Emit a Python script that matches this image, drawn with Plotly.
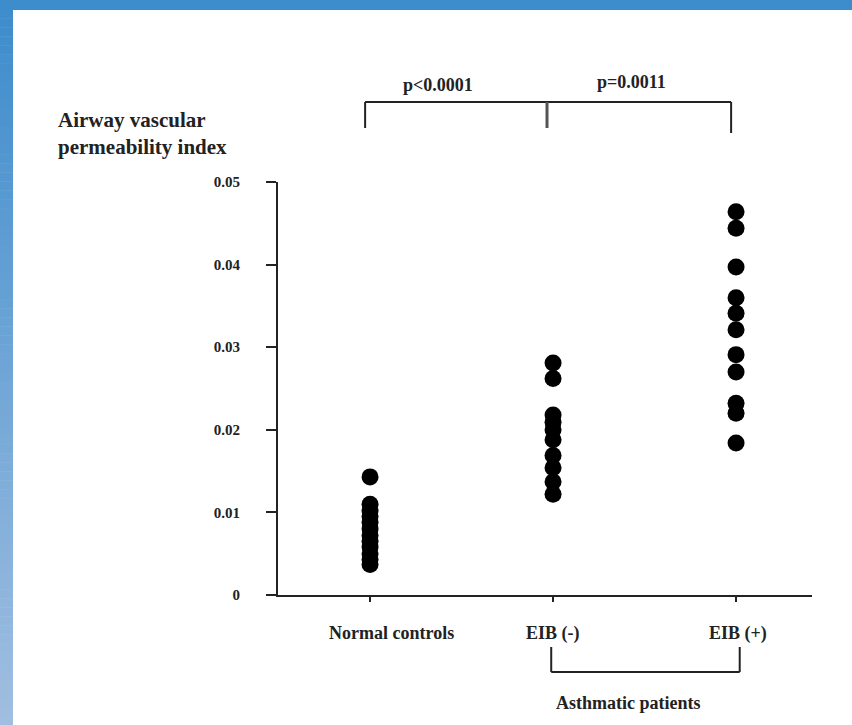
import plotly.graph_objects as go

# ---------------- data ----------------
groups = ["Normal controls", "EIB (-)", "EIB (+)"]
normal_vals = [0.0143, 0.0110, 0.0102, 0.0095, 0.0088, 0.0080, 0.0072, 0.0065, 0.0058, 0.0050, 0.0043, 0.0037]
eib_neg_vals = [0.0281, 0.0262, 0.0218, 0.0209, 0.0200, 0.0188, 0.0169, 0.0154, 0.0137, 0.0122]
eib_pos_vals = [0.0464, 0.0444, 0.0397, 0.0360, 0.0341, 0.0321, 0.0291, 0.0270, 0.0232, 0.0220, 0.0184]
y_tick_vals = [0, 0.01, 0.02, 0.03, 0.04, 0.05]
y_tick_text = ["0", "0.01", "0.02", "0.03", "0.04", "0.05"]
x_tick_pos = [0, 1, 2]
label_pos = [0.115, 1.0, 2.01]
p_labels = ["p<0.0001", "p=0.0011"]

W, H = 852, 725
L, R, T, B = 278, 40, 182, 130
PW, PH = W - L - R, H - T - B

def px(xp):
    return (xp - L) / PW

def py(yp):
    return (H - B - yp) / PH

FONT = "Liberation Serif"
TXT = "#222222"

fig = go.Figure()
series = [normal_vals, eib_neg_vals, eib_pos_vals]
for i, vals in enumerate(series):
    fig.add_trace(go.Scatter(
        x=[i] * len(vals), y=vals, mode="markers",
        marker=dict(size=17, color="black", line=dict(width=0)),
        showlegend=False, cliponaxis=False, name=groups[i]))

shapes = []
# blue border: top bar + gradient left bar
shapes.append(dict(type="rect", xref="paper", yref="paper",
                   x0=px(0), x1=px(W), y0=py(0), y1=py(10),
                   fillcolor="#3d8dcc", line=dict(width=0), layer="above"))
n = 80
c0 = (0x3d, 0x8c, 0xcc)
c1 = (0xa0, 0xbe, 0xe0)
for k in range(n):
    t = k / (n - 1)
    c = tuple(int(round(a + (b - a) * t)) for a, b in zip(c0, c1))
    y0p = k * H / n
    y1p = (k + 1) * H / n + 0.5
    shapes.append(dict(type="rect", xref="paper", yref="paper",
                       x0=px(0), x1=px(13), y0=py(y0p), y1=py(y1p),
                       fillcolor="rgb(%d,%d,%d)" % c, line=dict(width=0), layer="above"))

lc = dict(color="#222222", width=2)
# top significance brackets (data x, paper y)
ytop = 102
shapes.append(dict(type="line", xref="x", yref="paper", x0=-0.027, x1=1.973, y0=py(ytop), y1=py(ytop), line=lc))
shapes.append(dict(type="line", xref="x", yref="paper", x0=-0.027, x1=-0.027, y0=py(ytop), y1=py(128), line=lc))
shapes.append(dict(type="line", xref="x", yref="paper", x0=0.967, x1=0.967, y0=py(ytop), y1=py(128), line=dict(color="#555555", width=3)))
shapes.append(dict(type="line", xref="x", yref="paper", x0=1.973, x1=1.973, y0=py(ytop), y1=py(133), line=lc))
# bottom bracket (Asthmatic patients)
bx0, bx1 = 0.99, 2.02
shapes.append(dict(type="line", xref="x", yref="paper", x0=bx0, x1=bx0, y0=py(647), y1=py(672), line=lc))
shapes.append(dict(type="line", xref="x", yref="paper", x0=bx1, x1=bx1, y0=py(647), y1=py(672), line=lc))
shapes.append(dict(type="line", xref="x", yref="paper", x0=bx0, x1=bx1, y0=py(672), y1=py(672), line=lc))

ann = []
ann.append(dict(text="<b>Airway vascular<br>permeability index</b>", xref="paper", yref="paper",
                x=px(56), y=py(134), xanchor="left", yanchor="middle", align="left",
                showarrow=False, font=dict(family=FONT, size=21, color=TXT)))
ann.append(dict(text="<b>" + p_labels[0] + "</b>", xref="x", yref="paper", x=0.37, y=py(85),
                xanchor="center", yanchor="middle",
                showarrow=False, font=dict(family=FONT, size=18, color=TXT)))
ann.append(dict(text="<b>" + p_labels[1] + "</b>", xref="x", yref="paper", x=1.43, y=py(82),
                xanchor="center", yanchor="middle",
                showarrow=False, font=dict(family=FONT, size=18, color=TXT)))
for lp, g in zip(label_pos, groups):
    ann.append(dict(text="<b>" + g + "</b>", xref="x", yref="paper", x=lp, y=py(633),
                    xanchor="center", yanchor="middle",
                    showarrow=False, font=dict(family=FONT, size=18, color=TXT)))
ann.append(dict(text="<b>Asthmatic patients</b>", xref="x", yref="paper", x=1.41, y=py(703),
                xanchor="center", yanchor="middle",
                showarrow=False, font=dict(family=FONT, size=18, color=TXT)))

fig.update_layout(
    width=W, height=H,
    margin=dict(l=L, r=R, t=T, b=B, pad=0),
    paper_bgcolor="white", plot_bgcolor="white",
    shapes=shapes, annotations=ann,
    xaxis=dict(range=[-0.503, 2.415], showgrid=False, zeroline=False,
               showline=True, linecolor="#222222", linewidth=2,
               tickvals=x_tick_pos, ticktext=["", "", ""], ticks="outside",
               ticklen=5, tickcolor="#222222", tickwidth=2, fixedrange=True),
    yaxis=dict(range=[0, 0.05], showgrid=False, zeroline=False,
               showline=True, linecolor="#222222", linewidth=2,
               tickvals=y_tick_vals, ticktext=["<b>%s</b>" % t for t in y_tick_text],
               ticks="outside", ticklen=10, tickcolor="#222222", tickwidth=2,
               ticklabelstandoff=23,
               tickfont=dict(family=FONT, size=15, color=TXT), fixedrange=True),
)

fig.write_html("out.html")
